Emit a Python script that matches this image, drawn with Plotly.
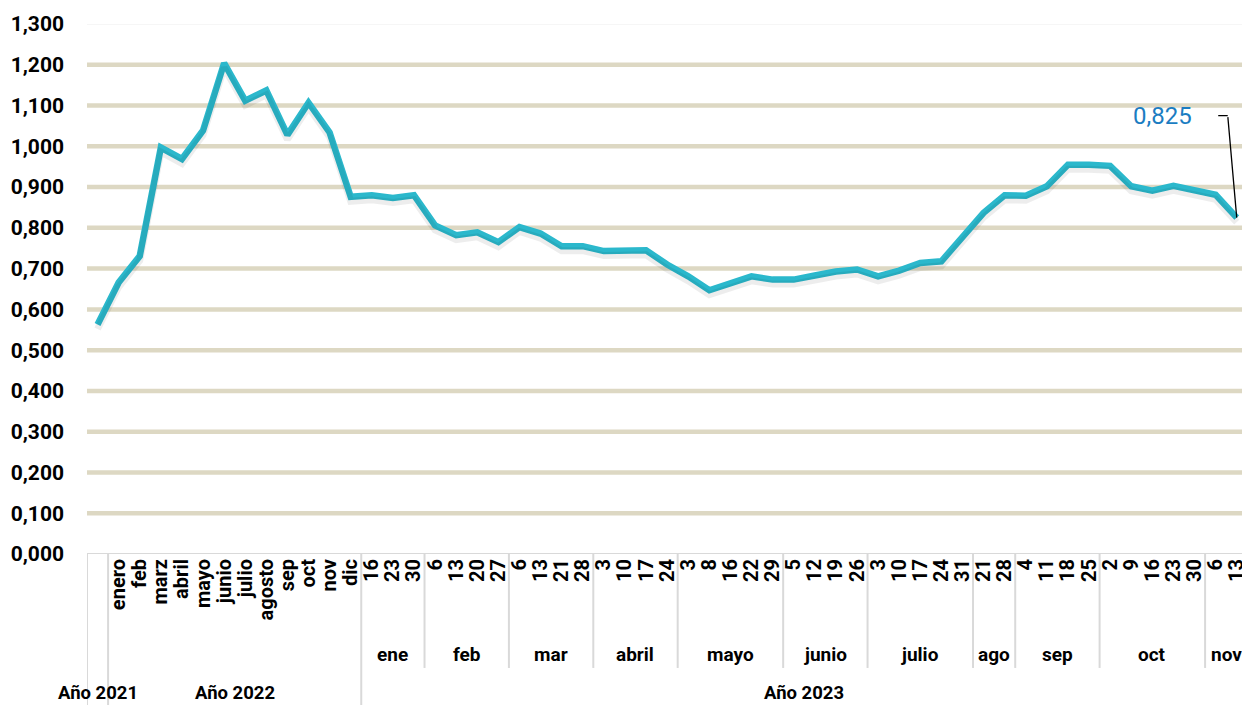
import plotly.graph_objects as go

# ---------------- data ----------------
label_2021 = [""]
labels_2022 = ["enero", "feb", "marz", "abril", "mayo", "junio", "julio",
               "agosto", "sep", "oct", "nov", "dic"]
months_2023 = ["ene", "feb", "mar", "abril", "mayo", "junio", "julio",
               "ago", "sep", "oct", "nov"]
days_2023 = [[16, 23, 30], [6, 13, 20, 27], [6, 13, 21, 28], [3, 10, 17, 24],
             [3, 8, 16, 22, 29], [5, 12, 19, 26], [3, 10, 17, 24, 31],
             [21, 28], [4, 11, 18, 25], [2, 9, 16, 23, 30], [6, 13]]
years = ["Año 2021", "Año 2022", "Año 2023"]

v2021 = [0.563]
v2022 = [0.666, 0.731, 0.997, 0.969, 1.039, 1.204, 1.112, 1.137, 1.028,
         1.107, 1.034, 0.876]
v2023 = [0.880, 0.873, 0.880,
         0.806, 0.782, 0.789, 0.765,
         0.802, 0.786, 0.755, 0.755,
         0.743, 0.745, 0.745, 0.710,
         0.681, 0.647, 0.666, 0.681, 0.673,
         0.673, 0.683, 0.693, 0.698,
         0.681, 0.695, 0.714, 0.718, 0.776,
         0.837, 0.880,
         0.879, 0.902, 0.955, 0.955,
         0.952, 0.902, 0.891, 0.903, 0.891,
         0.881, 0.825]
yticks = [i / 10 for i in range(14)]

# ---------------- build ----------------
ticktext = label_2021 + labels_2022 + [str(d) for grp in days_2023 for d in grp]
values = v2021 + v2022 + v2023
xs = list(range(len(values)))

LINE = "#2BB8CC"
GRID = "#DDD8C3"
SEP = "#D9D9D9"
FONT = "Roboto"
Y_RANGE = [0, 1.3]
SHADOW_SHIFT = 0.011  # visual drop shadow offset (axis units)

fig = go.Figure()
fig.add_trace(go.Scatter(x=xs, y=values, mode="lines", yaxis="y2",
                         line=dict(color="rgba(0,0,0,0.07)", width=7),
                         hoverinfo="skip", showlegend=False))
fig.add_trace(go.Scatter(x=xs, y=values, mode="lines",
                         line=dict(color=LINE, width=6.5),
                         hoverinfo="skip", showlegend=False))

shapes = []
for t in yticks[1:-1]:
    shapes.append(dict(type="line", xref="paper", yref="y", x0=0, x1=1,
                       y0=t, y1=t, line=dict(color=GRID, width=4.5), layer="below"))
shapes.append(dict(type="line", xref="paper", yref="y", x0=0, x1=1,
                   y0=yticks[-1], y1=yticks[-1],
                   line=dict(color="#EEEEEE", width=1), layer="below"))
shapes.append(dict(type="line", xref="paper", yref="y", x0=0, x1=1,
                   y0=0, y1=0, line=dict(color=SEP, width=2)))

n2021 = len(v2021)
n2022 = len(v2022)
start2023 = n2021 + n2022
FULL_BOTTOM = -0.3
MONTH_BOTTOM = -0.215

for b in [-0.5, n2021 - 0.5, start2023 - 0.5]:
    shapes.append(dict(type="line", xref="x", yref="paper", x0=b, x1=b,
                       y0=0, y1=FULL_BOTTOM, line=dict(color=SEP, width=2)))

annotations = []
pos = start2023
for m, grp in zip(months_2023, days_2023):
    end = pos + len(grp)
    if pos != start2023:
        shapes.append(dict(type="line", xref="x", yref="paper",
                           x0=pos - 0.5, x1=pos - 0.5, y0=0, y1=MONTH_BOTTOM,
                           line=dict(color=SEP, width=2)))
    annotations.append(dict(x=(pos + end - 1) / 2, y=-0.19, xref="x", yref="paper",
                            text=m, showarrow=False, yanchor="middle",
                            font=dict(family=FONT, size=19, color="#000000",
                                      weight="bold")))
    pos = end

year_centers = [(n2021 - 1) / 2, (n2021 + start2023 - 1) / 2,
                (start2023 + len(values) - 1) / 2]
for yl, c in zip(years, year_centers):
    annotations.append(dict(x=c, y=-0.262, xref="x", yref="paper", text=yl,
                            showarrow=False, yanchor="middle",
                            font=dict(family=FONT, size=18.5, color="#000000",
                                      weight="bold")))

last_x = xs[-1]
last_v = values[-1]
annotations.append(dict(x=last_x, y=last_v, xref="x", yref="y", text="",
                        showarrow=True, arrowhead=0, arrowwidth=1.3,
                        arrowcolor="#000000", ax=-9, ay=-102))
annotations.append(dict(x=last_x, y=last_v, xref="x", yref="y", text="",
                        showarrow=True, arrowhead=0, arrowwidth=1.3,
                        arrowcolor="#000000", ax=-11, ay=0,
                        xshift=-9, yshift=102))
annotations.append(dict(x=last_x, y=last_v, xref="x", yref="y",
                        text=f"{last_v:.3f}".replace(".", ","),
                        showarrow=False, xshift=-74, yshift=102,
                        font=dict(family=FONT, size=24, color="#1B7DC2")))

fig.update_layout(
    width=1242, height=705,
    margin=dict(l=87, r=0, t=24, b=151, autoexpand=False),
    paper_bgcolor="white", plot_bgcolor="white",
    separators=",.",
    font=dict(family=FONT, color="#000000"),
    shapes=shapes, annotations=annotations,
    xaxis=dict(range=[-0.5, 54.25], tickmode="array", tickvals=xs,
               ticktext=ticktext, tickangle=-90, showgrid=False,
               zeroline=False, showline=False, ticks="", automargin=False,
               ticklabeloverflow="allow",
               tickfont=dict(family=FONT, size=20, color="#000000",
                             weight="bold")),
    yaxis=dict(range=Y_RANGE, tickmode="array", tickvals=yticks,
               tickformat=".3f", showgrid=False, zeroline=False,
               showline=False, ticks="", ticklabelstandoff=22, automargin=False,
               tickfont=dict(family=FONT, size=21, color="#000000",
                             weight="bold")),
    yaxis2=dict(range=[Y_RANGE[0] + SHADOW_SHIFT, Y_RANGE[1] + SHADOW_SHIFT],
                overlaying="y", visible=False),
)

fig.write_html("out.html", config={"displayModeBar": False},
               post_script="document.body.style.margin='0';")
